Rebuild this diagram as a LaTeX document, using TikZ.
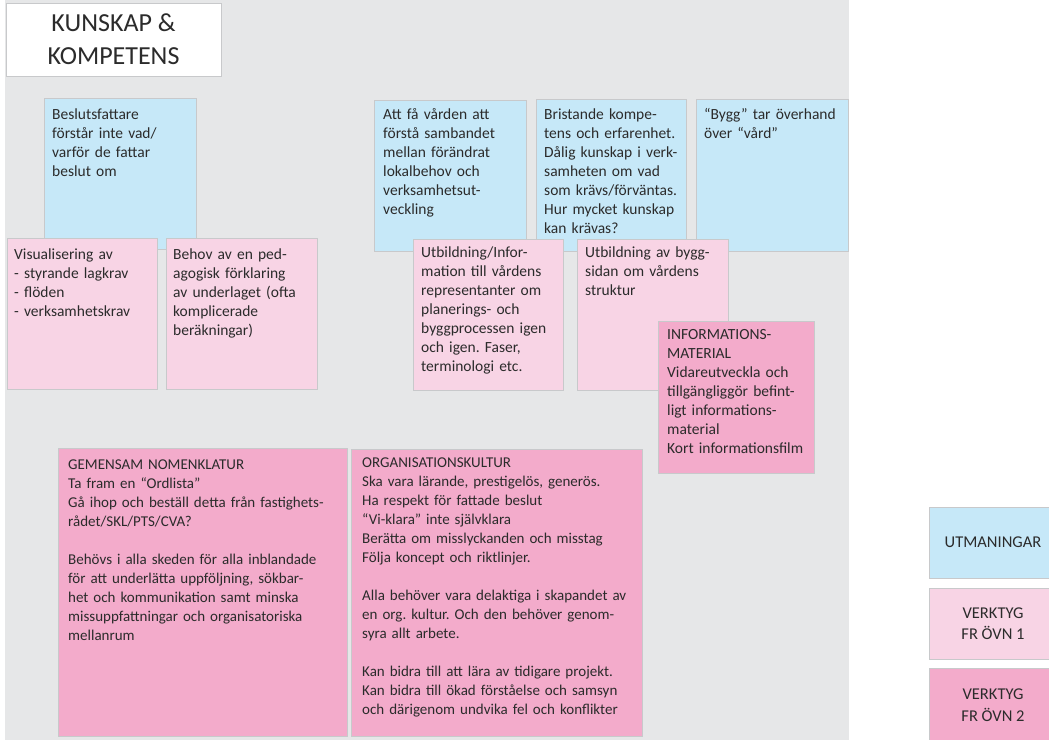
\documentclass[tikz,border=0pt]{standalone}
\usepackage{fontspec}
\setmainfont{Carlito}
\frenchspacing
\definecolor{bgc}{HTML}{E6E7E8}
\definecolor{edgec}{HTML}{C8C9CB}
\definecolor{bluec}{HTML}{C6E8F8}
\definecolor{pinkc}{HTML}{F8D4E5}
\definecolor{dpinkc}{HTML}{F3ABCB}
\definecolor{txtc}{HTML}{2B2B2B}
\tikzset{
  card/.style={draw=edgec, line width=0.9pt, anchor=north west, inner sep=0pt, outer sep=0pt},
  bluecard/.style={card, fill=bluec},
  pinkcard/.style={card, fill=pinkc},
  dpinkcard/.style={card, fill=dpinkc},
  big/.style={text=txtc, anchor=base west, inner sep=0pt, align=left, font=\fontsize{15.5}{19}\selectfont},
  small/.style={text=txtc, anchor=base west, inner sep=0pt, align=left, font=\fontsize{15}{19}\selectfont},
  legtxt/.style={text=txtc, align=center, inner sep=0pt, font=\fontsize{16.5}{21.5}\selectfont},
}
\begin{document}
\begin{tikzpicture}[x=1pt,y=-1pt]
\useasboundingbox (0,0) rectangle (1049,739);
\node[fill=bgc, anchor=north west, inner sep=0pt, minimum width=844, minimum height=745] (bg) at (5,0) {};
% title
\node[card, fill=white, minimum width=215, minimum height=73] (titlebox) at (6,3) {};
\node[text=txtc, align=center, inner sep=0pt, font=\fontsize{26}{33}\selectfont] (title) at (titlebox.center) {KUNSKAP \&\\KOMPETENS};
% blue cards
\node[bluecard, minimum width=152, minimum height=151] (c1) at (44,98) {};
\node[big, text width=140] (t1) at (52,119) {Beslutsfattare\\förstår inte vad/\\varför de fattar\\beslut om};
\node[bluecard, minimum width=152, minimum height=151] (c2) at (374,100) {};
\node[big, text width=140] (t2) at (383,119) {Att få vården att\\förstå sambandet\\mellan förändrat\\lokalbehov och\\verksamhetsut-\\veckling};
\node[bluecard, minimum width=150, minimum height=152] (c3) at (536,99) {};
\node[big, text width=145] (t3) at (544,119) {Bristande kompe-\\tens och erfarenhet.\\Dålig kunskap i verk-\\samheten om vad\\som krävs/förväntas.\\Hur mycket kunskap\\kan krävas?};
\node[bluecard, minimum width=152, minimum height=152] (c4) at (696,99) {};
\node[big, text width=145] (t4) at (704,119) {“Bygg” tar överhand\\över “vård”};
% light pink cards
\node[pinkcard, minimum width=150, minimum height=151] (p1) at (7,238) {};
\node[big, text width=140] (tp1) at (14,259) {Visualisering av\\- styrande lagkrav\\- flöden\\- verksamhetskrav};
\node[pinkcard, minimum width=151, minimum height=151] (p2) at (166,238) {};
\node[big, text width=140] (tp2) at (173,259) {Behov av en ped-\\agogisk förklaring\\av underlaget (ofta\\komplicerade\\beräkningar)};
\node[pinkcard, minimum width=150, minimum height=151] (p3) at (413,239) {};
\node[big, text width=140] (tp3) at (421,257) {Utbildning/Infor-\\mation till vårdens\\representanter om\\planerings- och\\byggprocessen igen\\och igen. Faser,\\terminologi etc.};
\node[pinkcard, minimum width=151, minimum height=151] (p4) at (577,239) {};
\node[big, text width=140] (tp4) at (585,257) {Utbildning av bygg-\\sidan om vårdens\\struktur};
% dark pink cards
\node[dpinkcard, minimum width=156, minimum height=152] (d1) at (658,321) {};
\node[big, text width=150] (td1) at (667,339) {INFORMATIONS-\\MATERIAL\\Vidareutveckla och\\tillgängliggör befint-\\ligt informations-\\material\\Kort informationsfilm};
\node[dpinkcard, minimum width=289, minimum height=288] (d2) at (58,448) {};
\node[small, text width=300] (td2) at (68,469) {GEMENSAM NOMENKLATUR\\Ta fram en “Ordlista”\\Gå ihop och beställ detta från fastighets-\\rådet/SKL/PTS/CVA?\\[19pt]Behövs i alla skeden för alla inblandade\\för att underlätta uppföljning, sökbar-\\het och kommunikation samt minska\\missuppfattningar och organisatoriska\\mellanrum};
\node[dpinkcard, minimum width=291, minimum height=287] (d3) at (351,449) {};
\node[small, text width=300] (td3) at (362,467) {ORGANISATIONSKULTUR\\Ska vara lärande, prestigelös, generös.\\Ha respekt för fattade beslut\\“Vi-klara” inte självklara\\Berätta om misslyckanden och misstag\\Följa koncept och riktlinjer.\\[19pt]Alla behöver vara delaktiga i skapandet av\\en org. kultur. Och den behöver genom-\\syra allt arbete.\\[19pt]Kan bidra till att lära av tidigare projekt.\\Kan bidra till ökad förståelse och samsyn\\och därigenom undvika fel och konflikter};
% legend
\node[bluecard, minimum width=128, minimum height=71] (l1) at (929,507) {};
\node[legtxt] (lt1) at (l1.center) {UTMANINGAR};
\node[pinkcard, minimum width=128, minimum height=71] (l2) at (929,588) {};
\node[legtxt] (lt2) at (l2.center) {VERKTYG\\FR ÖVN 1};
\node[dpinkcard, minimum width=128, minimum height=74] (l3) at (929,668) {};
\node[legtxt] (lt3) at (l3.center) {VERKTYG\\FR ÖVN 2};
\end{tikzpicture}
\end{document}
